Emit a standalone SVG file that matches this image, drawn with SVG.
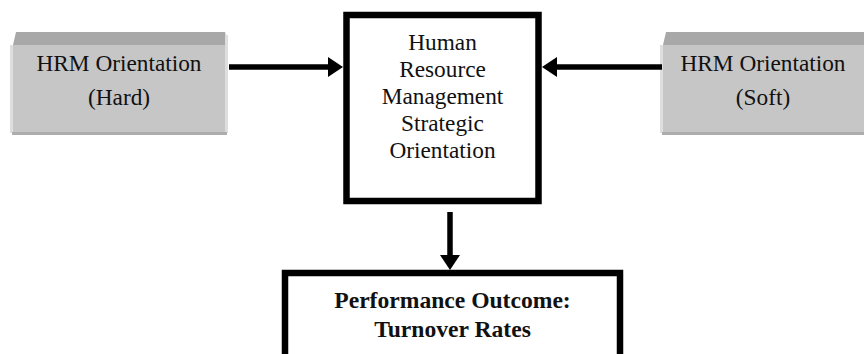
<svg xmlns="http://www.w3.org/2000/svg" width="864" height="354" viewBox="0 0 864 354">
  <defs>
    <style>
      .lbl { font-family: "Liberation Serif", "Times New Roman", serif; font-size: 23.3px; fill: #111; text-anchor: middle; }
      .bold { font-weight: bold; font-size: 23.6px; }
      .frame { fill: #fff; stroke: #000; stroke-width: 6.5; }
      .face { fill: #c6c6c6; }
      .top { fill: #a8a8a8; }
      .hi { fill: #dedede; }
      .low { fill: #adadad; }
      .wire { stroke: #000; stroke-width: 5.5; fill: none; }
      .head { fill: #000; }
    </style>
  </defs>

  <!-- bevelled input box: hard orientation -->
  <g id="hrm-hard">
    <polygon class="top" points="13,45 16,32 225,32 228,45"/>
    <rect class="hi" x="10" y="45" width="3" height="88"/>
    <rect class="hi" x="225" y="35" width="3" height="98"/>
    <rect class="face" x="13" y="45" width="212" height="87"/>
    <rect class="low" x="12" y="132" width="215" height="3"/>
    <text class="lbl" x="119" y="71">HRM Orientation</text>
    <text class="lbl" x="119" y="105">(Hard)</text>
  </g>

  <!-- bevelled input box: soft orientation -->
  <g id="hrm-soft">
    <polygon class="top" points="663,45 666,32 864,32 864,45"/>
    <rect class="hi" x="660" y="45" width="3" height="88"/>
    <rect class="face" x="663" y="45" width="201" height="87"/>
    <rect class="low" x="662" y="132" width="202" height="3"/>
    <text class="lbl" x="763" y="71">HRM Orientation</text>
    <text class="lbl" x="763" y="105">(Soft)</text>
  </g>

  <!-- central construct -->
  <g id="hrm-strategic">
    <rect class="frame" x="346.5" y="15" width="192" height="186"/>
    <text class="lbl" x="442.5" y="50">Human</text>
    <text class="lbl" x="442.5" y="77">Resource</text>
    <text class="lbl" x="442.5" y="104">Management</text>
    <text class="lbl" x="442.5" y="131">Strategic</text>
    <text class="lbl" x="442.5" y="158">Orientation</text>
  </g>

  <!-- outcome box -->
  <g id="performance">
    <rect class="frame" x="285" y="273" width="335" height="100"/>
    <text class="lbl bold" x="452.5" y="308">Performance Outcome:</text>
    <text class="lbl bold" x="452.5" y="337">Turnover Rates</text>
  </g>

  <!-- connectors -->
  <g id="connectors">
    <line class="wire" x1="229" y1="67" x2="330" y2="67"/>
    <polygon class="head" points="328,57 343,67 328,77"/>
    <line class="wire" x1="662" y1="67" x2="555" y2="67"/>
    <polygon class="head" points="557,57 542,67 557,77"/>
    <line class="wire" x1="450" y1="212" x2="450" y2="257"/>
    <polygon class="head" points="440,255 460,255 450,270"/>
  </g>
</svg>
